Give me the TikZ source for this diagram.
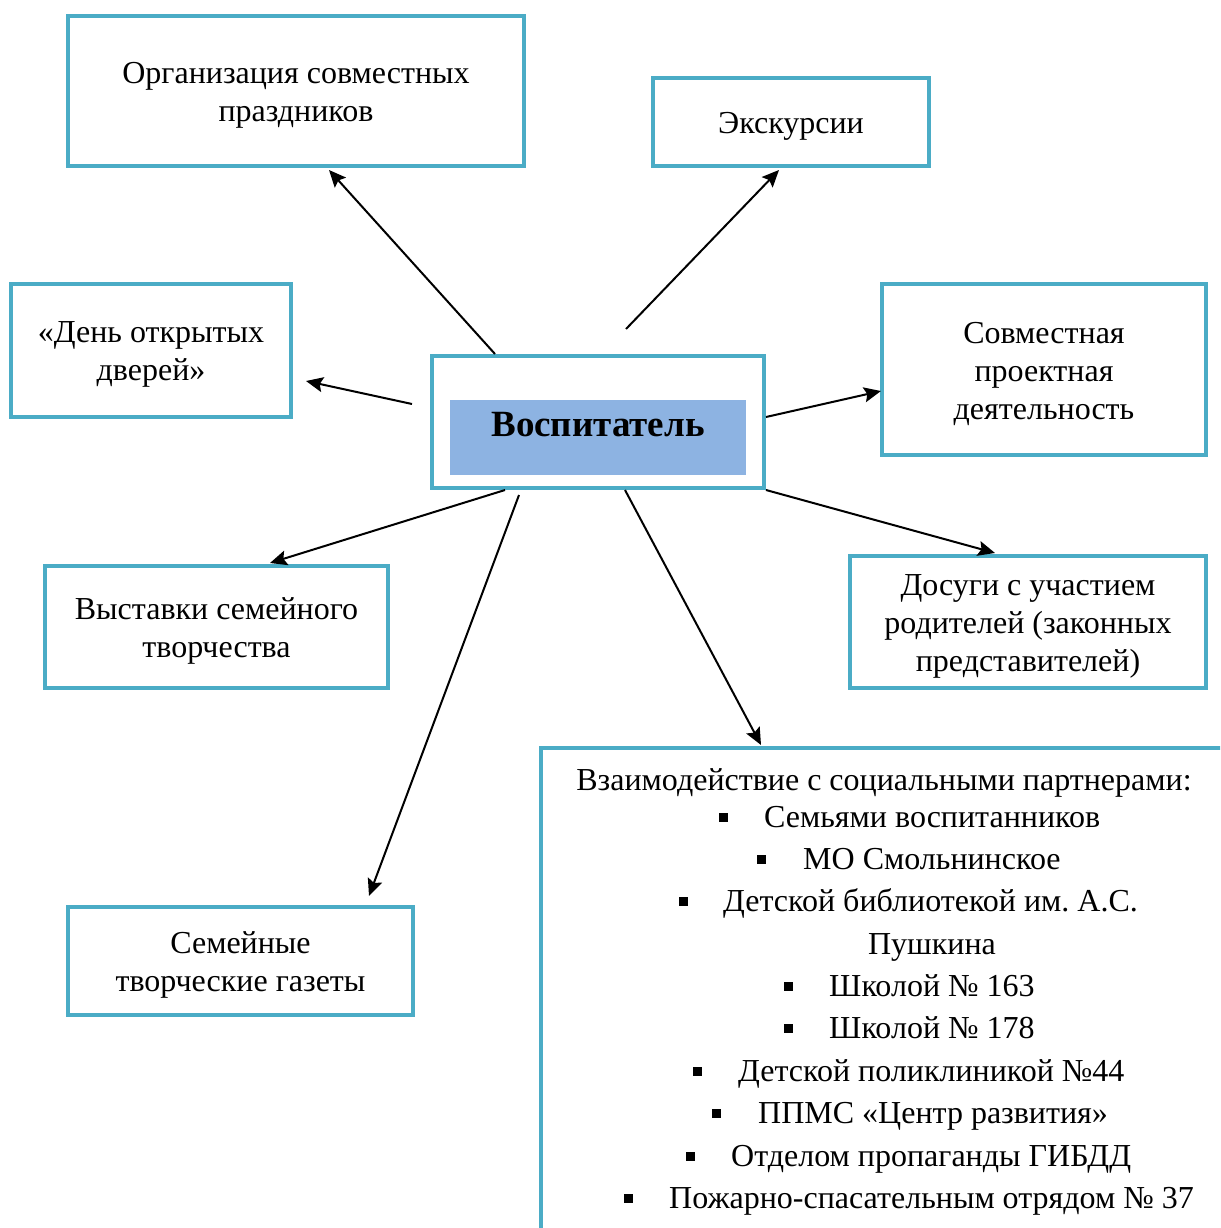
\documentclass[tikz,border=0pt]{standalone}
\usepackage{fontspec}
\setmainfont{Liberation Serif}
\frenchspacing
\usetikzlibrary{arrows.meta,calc}
\definecolor{boxcol}{HTML}{4BACC6}
\definecolor{fillcol}{HTML}{8DB3E2}
\begin{document}
\begin{tikzpicture}[x=1pt,y=-1pt,
  box/.style={draw=boxcol,line width=4pt,rectangle,inner sep=0pt},
  btxt/.style={inner sep=0pt,align=center,yshift=-4pt,font=\fontsize{32}{38}\selectfont},
  conn/.style={line width=2pt,-{Stealth[length=17pt,width=15pt,inset=3pt]}},
  ltxt/.style={anchor=base west,inner sep=0pt,font=\fontsize{32}{38}\selectfont},
  bul/.style={fill=black,rectangle,inner sep=0pt,minimum size=9pt}]
\useasboundingbox (0,0) rectangle (1220,1228);
\clip (0,0) rectangle (1220,1228);
\fill[white] (0,0) rectangle (1220,1228);
% boxes
\node[box,minimum width=456pt,minimum height=150pt] (n1) at (296,91) {};
\node[btxt] (n1t) at (n1.center) {Организация совместных\\праздников};
\node[box,minimum width=276pt,minimum height=88pt] (n2) at (791,122) {};
\node[btxt] (n2t) at (n2.center) {Экскурсии};
\node[box,minimum width=280pt,minimum height=133pt] (n3) at (151,350.5) {};
\node[btxt] (n3t) at (n3.center) {«День открытых\\дверей»};
\node[box,minimum width=324pt,minimum height=171pt] (n5) at (1044,369.5) {};
\node[btxt] (n5t) at (n5.center) {Совместная\\проектная\\деятельность};
\node[box,minimum width=343pt,minimum height=122pt] (n6) at (216.5,627) {};
\node[btxt] (n6t) at (n6.center) {Выставки семейного\\творчества};
\node[box,minimum width=356pt,minimum height=132pt] (n7) at (1028,622) {};
\node[btxt] (n7t) at (n7.center) {Досуги с участием\\родителей (законных\\представителей)};
\node[box,minimum width=345pt,minimum height=108pt] (n8) at (240.5,961) {};
\node[btxt] (n8t) at (n8.center) {Семейные\\творческие газеты};
% central
\node[box,minimum width=332pt,minimum height=132pt] (c) at (598,422) {};
\node[fill=fillcol,rectangle,minimum width=296pt,minimum height=75pt,inner sep=0pt] (cf) at (598,437.5) {};
\node[font=\fontsize{37}{40}\selectfont\bfseries,inner sep=0pt,anchor=base] (ct) at (598,436) {Воспитатель};
% social partners box
\node[box,minimum width=709pt,minimum height=502pt] (soc) at (895.5,999) {};
\node[ltxt,anchor=base] (t0) at (884,790) {Взаимодействие с социальными партнерами:};
\node[bul] (b1) at (723,817) {}; \node[ltxt] (t1) at (764,827) {Семьями воспитанников};
\node[bul] (b2) at (761,859) {}; \node[ltxt] (t2) at (803,869) {МО Смольнинское};
\node[bul] (b3) at (683,901) {}; \node[ltxt] (t3) at (723,911) {Детской библиотекой им. А.С.};
\node[ltxt,anchor=base] (t3b) at (932,954) {Пушкина};
\node[bul] (b4) at (788,986) {}; \node[ltxt] (t4) at (829,996) {Школой № 163};
\node[bul] (b5) at (788,1028) {}; \node[ltxt] (t5) at (829,1038) {Школой № 178};
\node[bul] (b6) at (697,1071) {}; \node[ltxt] (t6) at (738,1081) {Детской поликлиникой №44};
\node[bul] (b7) at (716,1113) {}; \node[ltxt] (t7) at (758,1123) {ППМС «Центр развития»};
\node[bul] (b8) at (690,1156) {}; \node[ltxt] (t8) at (731,1166) {Отделом пропаганды ГИБДД};
\node[bul] (b9) at (628,1198) {}; \node[ltxt] (t9) at (669,1208) {Пожарно-спасательным отрядом № 37};
% connectors
\draw[conn] ($(c.north west)+(65,0)$) -- ($(n1.south west)+(263,2)$);
\draw[conn] ($(c.north)+(28,-25)$) -- ($(n2.south west)+(128,2)$);
\draw[conn] ($(c.west)+(-18,-18)$) -- ($(n3.east)+(13,30.5)$);
\draw[conn] ($(c.east)+(0,-5)$) -- ($(n5.west)+(1,21.5)$);
\draw[conn] ($(c.south west)+(75,0)$) -- ($(n6.north west)+(227,-1)$);
\draw[conn] ($(c.south west)+(89,5)$) -- ($(n8.north west)+(303,-9)$);
\draw[conn] ($(c.south west)+(195,0)$) -- ($(soc.north west)+(222,-1)$);
\draw[conn] (c.south east) -- ($(n7.north west)+(147,-1)$);
\end{tikzpicture}
\end{document}
